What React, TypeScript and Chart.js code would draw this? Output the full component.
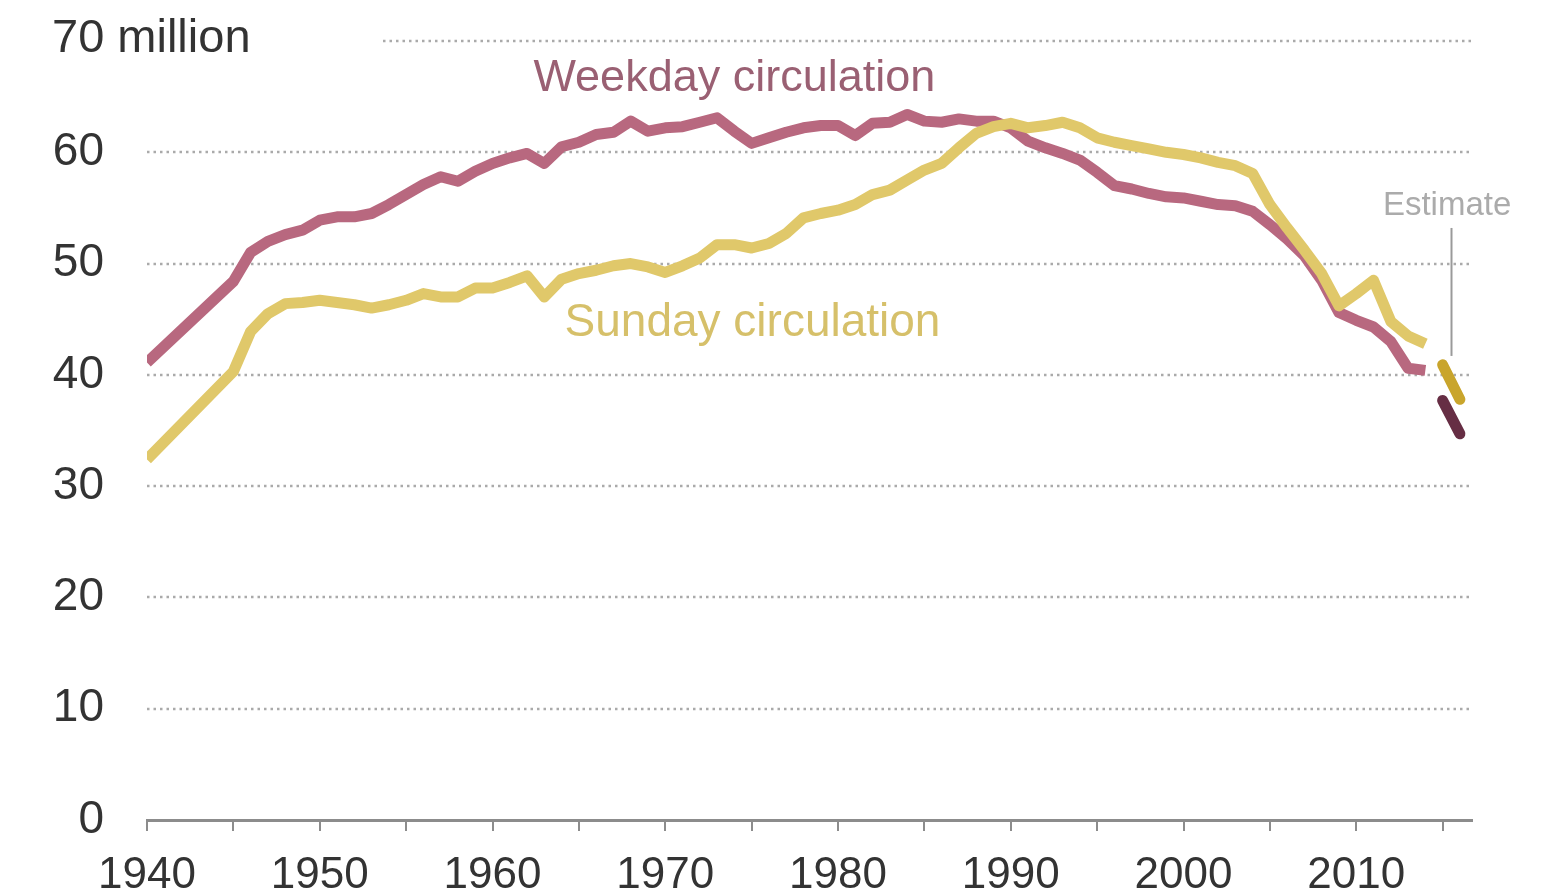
import React, { useEffect, useRef } from 'react';
import { Chart, registerables } from 'chart.js';

Chart.register(...registerables);

const years = [
  1940, 1945, 1946, 1947, 1948, 1949, 1950, 1951, 1952, 1953, 1954, 1955, 1956, 1957, 1958, 1959,
  1960, 1961, 1962, 1963, 1964, 1965, 1966, 1967, 1968, 1969, 1970, 1971, 1972, 1973, 1974, 1975,
  1976, 1977, 1978, 1979, 1980, 1981, 1982, 1983, 1984, 1985, 1986, 1987, 1988, 1989, 1990, 1991,
  1992, 1993, 1994, 1995, 1996, 1997, 1998, 1999, 2000, 2001, 2002, 2003, 2004, 2005, 2006, 2007,
  2008, 2009, 2010, 2011, 2012, 2013, 2014,
];

const weekday = [
  41.1, 48.4, 51.0, 52.0, 52.6, 53.0, 53.9, 54.2, 54.2, 54.5, 55.3, 56.2, 57.1, 57.8, 57.4, 58.3,
  59.0, 59.5, 59.9, 59.0, 60.5, 60.9, 61.6, 61.8, 62.8, 61.9, 62.2, 62.3, 62.7, 63.1, 61.9, 60.8,
  61.3, 61.8, 62.2, 62.4, 62.4, 61.5, 62.6, 62.7, 63.4, 62.8, 62.7, 63.0, 62.8, 62.8, 62.2, 61.0,
  60.4, 59.9, 59.3, 58.2, 57.0, 56.7, 56.3, 56.0, 55.9, 55.6, 55.3, 55.2, 54.7, 53.5, 52.2, 50.7,
  48.5, 45.6, 44.9, 44.3, 43.0, 40.6, 40.4,
];

const sunday = [
  32.4, 40.3, 43.9, 45.5, 46.4, 46.5, 46.7, 46.5, 46.3, 46.0, 46.3, 46.7, 47.3, 47.0, 47.0, 47.8,
  47.8, 48.3, 48.9, 47.0, 48.6, 49.1, 49.4, 49.8, 50.0, 49.7, 49.2, 49.8, 50.5, 51.7, 51.7, 51.4,
  51.8, 52.7, 54.1, 54.5, 54.8, 55.3, 56.2, 56.6, 57.5, 58.4, 59.0, 60.4, 61.7, 62.3, 62.6, 62.2,
  62.4, 62.7, 62.2, 61.3, 60.9, 60.6, 60.3, 60.0, 59.8, 59.5, 59.1, 58.8, 58.1, 55.3, 53.2, 51.2,
  49.1, 46.2, 47.3, 48.5, 44.8, 43.5, 42.8,
];

const estimateYears = [2015, 2016];
const weekdayEstimate = [37.7, 34.7];
const sundayEstimate = [40.9, 37.8];

const yTicks = [0, 10, 20, 30, 40, 50, 60, 70];
const xLabelYears = [1940, 1950, 1960, 1970, 1980, 1990, 2000, 2010];

const FONT = '"Liberation Sans", Arial, sans-serif';

const toPoints = (xs: number[], ys: number[]) => xs.map((x, i) => ({ x, y: ys[i] }));

const decorPlugin = {
  id: 'decor',
  beforeDatasetsDraw(chart: any) {
    const { ctx, chartArea, scales } = chart;
    const y = scales.y;
    ctx.save();
    ctx.strokeStyle = '#aaaaaa';
    ctx.lineWidth = 2.5;
    ctx.setLineDash([2.5, 4]);
    for (const v of yTicks) {
      if (v === 0) continue;
      const py = Math.round(y.getPixelForValue(v));
      const startX = v === 70 ? chartArea.left + 236 : chartArea.left;
      ctx.beginPath();
      ctx.moveTo(startX, py);
      ctx.lineTo(chartArea.right, py);
      ctx.stroke();
    }
    ctx.restore();
  },
  afterDraw(chart: any) {
    const { ctx, scales } = chart;
    const x = scales.x;
    const y = scales.y;
    ctx.save();
    // y tick labels
    ctx.fillStyle = '#333333';
    ctx.textBaseline = 'middle';
    for (const v of yTicks) {
      const py = y.getPixelForValue(v);
      if (v === 70) {
        ctx.font = `47px ${FONT}`;
        ctx.textAlign = 'left';
        ctx.fillText('70 million', 52, py - 2);
      } else {
        ctx.font = `46px ${FONT}`;
        ctx.textAlign = 'right';
        ctx.fillText(String(v), 104, py);
      }
    }
    // series labels
    ctx.textAlign = 'center';
    ctx.font = `45px ${FONT}`;
    ctx.fillStyle = '#9a6073';
    ctx.fillText('Weekday circulation', x.getPixelForValue(1974), y.getPixelForValue(66.6));
    ctx.font = `46px ${FONT}`;
    ctx.fillStyle = '#d6c06a';
    ctx.fillText('Sunday circulation', x.getPixelForValue(1975.05), y.getPixelForValue(44.6));
    // estimate annotation
    ctx.font = `33px ${FONT}`;
    ctx.fillStyle = '#ababab';
    ctx.fillText('Estimate', x.getPixelForValue(2015.26), y.getPixelForValue(55.2));
    ctx.strokeStyle = '#9a9a9a';
    ctx.lineWidth = 2;
    const lx = Math.round(x.getPixelForValue(2015.5)) + 0.5;
    ctx.beginPath();
    ctx.moveTo(lx, y.getPixelForValue(53.2));
    ctx.lineTo(lx, y.getPixelForValue(41.7));
    ctx.stroke();
    ctx.restore();
  },
};

export default function App() {
  const canvasRef = useRef<HTMLCanvasElement | null>(null);

  useEffect(() => {
    if (!canvasRef.current) return;
    const chart = new Chart(canvasRef.current, {
      type: 'line',
      data: {
        datasets: [
          {
            label: 'Sunday circulation',
            data: toPoints(years, sunday),
            borderColor: '#e0c86a',
            borderWidth: 11,
            pointRadius: 0,
            tension: 0,
            borderJoinStyle: 'round',
            borderCapStyle: 'butt',
          },
          {
            label: 'Weekday circulation',
            data: toPoints(years, weekday),
            borderColor: '#b8687f',
            borderWidth: 11,
            pointRadius: 0,
            tension: 0,
            borderJoinStyle: 'round',
            borderCapStyle: 'butt',
          },
          {
            label: 'Sunday estimate',
            data: toPoints(estimateYears, sundayEstimate),
            borderColor: '#c9a52c',
            borderWidth: 11,
            pointRadius: 0,
            borderCapStyle: 'round',
          },
          {
            label: 'Weekday estimate',
            data: toPoints(estimateYears, weekdayEstimate),
            borderColor: '#662e44',
            borderWidth: 11,
            pointRadius: 0,
            borderCapStyle: 'round',
          },
        ],
      },
      options: {
        animation: false,
        responsive: false,
        maintainAspectRatio: false,
        devicePixelRatio: 1,
        layout: { padding: { left: 147, right: 75, top: 41, bottom: 0 } },
        plugins: {
          legend: { display: false },
          tooltip: { enabled: false },
        },
        scales: {
          x: {
            type: 'linear',
            min: 1940,
            max: 2016.7,
            position: 'bottom',
            afterFit: (scale: any) => {
              scale.height = 73;
            },
            grid: {
              display: true,
              drawOnChartArea: false,
              drawTicks: true,
              tickLength: 11,
              color: '#8c8c8c',
              lineWidth: 2,
            },
            border: { display: true, color: '#8c8c8c', width: 3 },
            ticks: {
              stepSize: 5,
              includeBounds: false,
              autoSkip: false,
              maxRotation: 0,
              padding: 23,
              color: '#333333',
              font: { family: FONT, size: 44, lineHeight: 1 },
              callback: (v: any) => (xLabelYears.includes(Number(v)) ? String(v) : ''),
            },
          },
          y: {
            display: false,
            min: 0,
            max: 70,
          },
        },
      },
      plugins: [decorPlugin],
    });
    return () => chart.destroy();
  }, []);

  return (
    <div style={{ position: 'fixed', left: 0, top: 0, width: 1547, height: 893, background: '#fff' }}>
      <canvas ref={canvasRef} width={1547} height={893} style={{ display: 'block' }} />
    </div>
  );
}
